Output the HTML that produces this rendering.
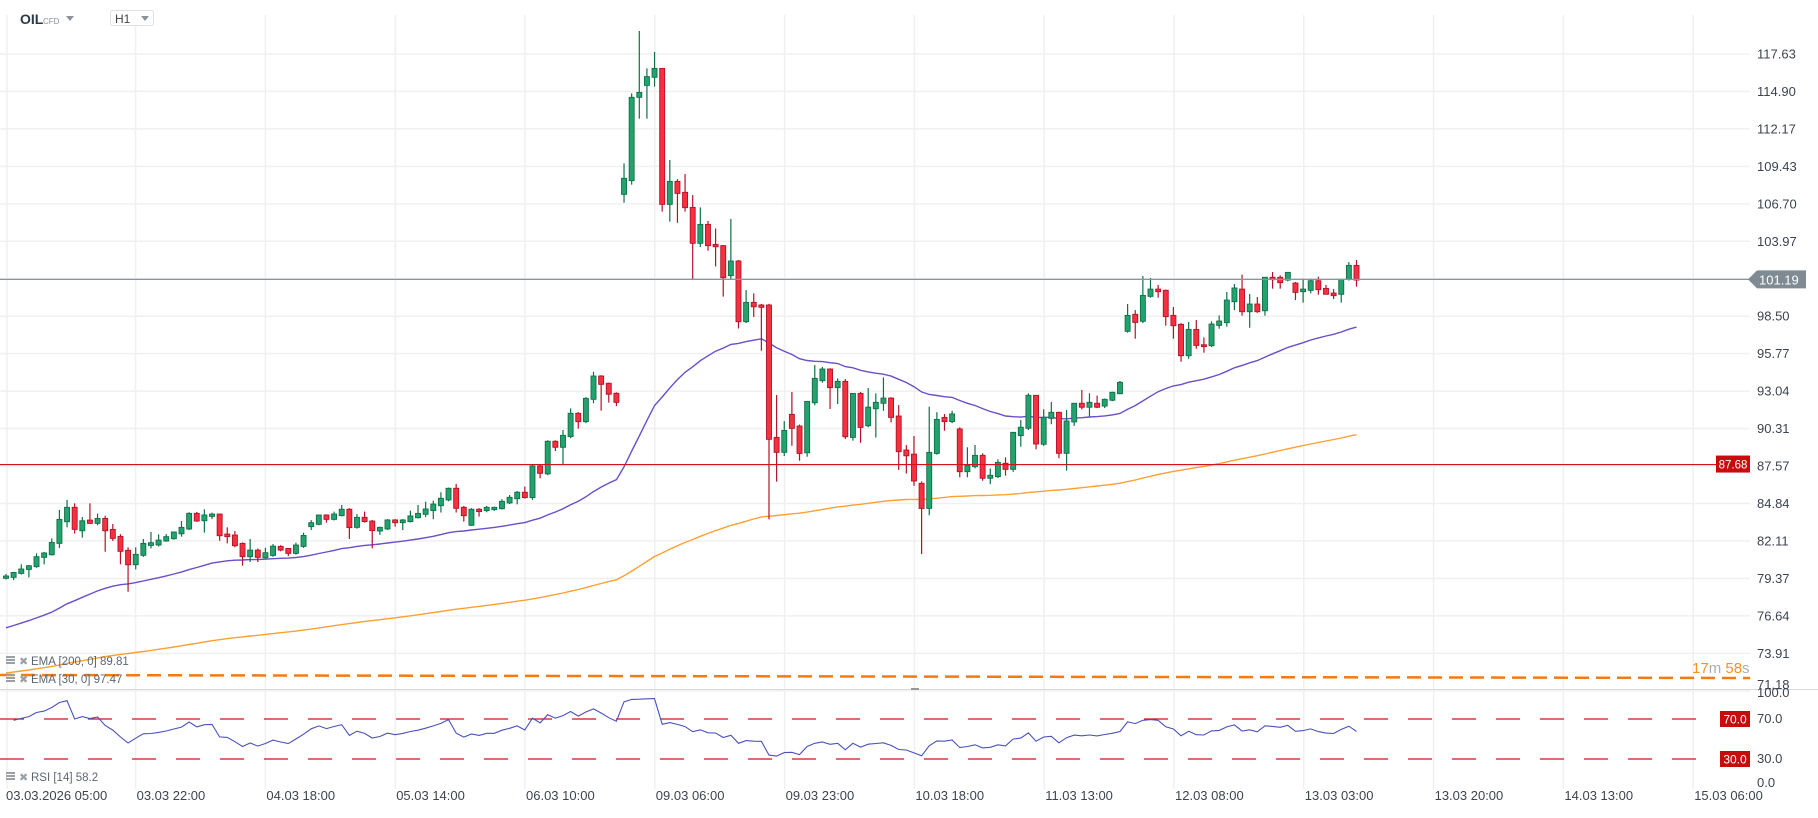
<!DOCTYPE html>
<html><head><meta charset="utf-8"><style>
html,body{margin:0;padding:0;background:#fff;}
body{width:1818px;height:813px;overflow:hidden;font-family:"Liberation Sans",sans-serif;}
svg text{font-family:"Liberation Sans",sans-serif;}
</style></head><body>
<svg id="chart" width="1818" height="813" viewBox="0 0 1818 813" xmlns="http://www.w3.org/2000/svg">
<g id="grid"></g>
<g id="ema"></g>
<g id="candles"></g>
<g id="overlay"></g>
<g id="rsi"></g>
<g id="axes"></g>
<g>
  <text x="20" y="24" font-size="14" font-weight="bold" fill="#2b3a4a">OIL</text>
  <text x="43" y="24" font-size="8" fill="#8a929b">CFD</text>
  <path d="M66 16 L74 16 L70 21 Z" fill="#8a929b"/>
  <rect x="110.5" y="10.5" width="43" height="15" fill="#fff" stroke="#dde1e5" rx="2"/>
  <text x="115" y="23" font-size="12" fill="#444">H1</text>
  <path d="M141 16 L149 16 L145 21 Z" fill="#8a929b"/>
</g>
</svg>
<script>
const opens=[79.38,79.45,79.74,80.03,80.23,80.91,81.10,81.93,83.51,84.56,82.85,83.63,83.39,83.75,82.95,82.44,81.42,80.37,81.06,81.78,81.81,82.10,82.27,82.63,82.98,84.12,83.58,83.90,84.07,82.61,82.54,81.93,80.96,81.44,80.88,81.05,81.71,81.56,81.20,81.71,83.15,83.32,84.0,83.68,83.95,84.42,83.10,83.83,83.56,82.83,82.98,83.64,83.44,83.52,83.80,84.05,84.32,84.68,85.10,85.95,84.56,83.25,84.42,84.32,84.39,84.46,84.88,85.19,85.66,85.27,87.58,87.00,89.38,88.94,89.72,91.42,90.81,92.44,94.14,93.61,92.88,107.39,108.39,114.47,115.34,115.93,116.58,106.66,108.34,107.54,106.44,103.82,105.20,103.74,103.65,101.46,102.53,98.10,99.51,99.32,99.32,89.66,88.57,91.34,90.49,88.54,92.19,93.80,94.65,93.29,93.75,89.66,92.87,90.51,91.75,92.15,92.53,91.22,88.74,88.44,86.31,84.48,88.49,91.12,90.81,90.28,87.16,87.53,88.35,86.68,86.80,87.77,87.33,89.79,90.33,92.73,89.16,91.05,91.49,88.50,90.79,92.15,91.86,92.15,91.95,92.37,92.85,97.40,98.64,98.13,99.95,100.48,100.39,98.56,97.91,95.62,97.54,96.42,96.35,97.83,98.03,99.56,100.48,98.83,99.39,98.90,101.34,101.34,101.14,100.92,100.29,100.39,101.09,100.53,100.19,100.10,101.19,102.21];
const highs=[79.70,79.85,80.40,80.35,81.20,81.30,82.30,84.37,85.10,84.85,83.85,84.85,84.10,83.95,83.34,82.60,81.64,81.64,82.25,82.76,82.59,82.61,82.80,83.56,84.20,84.22,84.41,84.17,84.10,83.10,82.83,82.00,82.25,81.55,81.61,81.88,81.80,81.60,81.98,82.71,83.63,84.00,84.05,84.25,84.73,84.50,84.07,84.25,83.64,83.15,83.70,83.70,83.70,84.32,84.73,84.97,85.05,85.66,86.00,86.26,84.66,84.50,84.50,84.66,84.60,85.15,85.46,85.75,86.07,87.65,87.65,89.45,89.45,90.20,91.78,91.50,92.60,94.45,94.20,93.66,92.95,109.65,114.76,119.31,116.58,117.78,116.60,109.90,108.50,108.87,107.34,106.44,105.45,104.90,103.70,105.59,102.60,100.41,100.17,99.40,99.40,92.75,90.85,92.97,90.60,92.30,94.94,94.80,94.70,93.97,93.92,92.90,92.97,93.26,92.87,94.04,92.60,92.02,89.10,89.76,86.45,91.90,91.50,91.37,91.60,90.40,88.94,89.11,88.50,87.40,88.06,88.20,90.03,90.93,92.88,92.75,91.71,92.25,91.54,91.66,92.15,93.12,92.88,92.71,92.50,93.00,93.78,99.39,98.95,101.43,101.29,100.78,100.45,99.17,98.00,98.08,98.22,96.96,98.13,98.56,100.27,100.85,101.53,100.12,99.90,101.34,101.73,101.48,101.70,101.00,101.24,101.24,101.38,100.78,100.48,101.19,102.45,102.60];
const lows=[79.30,79.25,79.65,79.45,80.15,80.40,81.05,81.60,83.10,82.65,82.35,83.35,83.25,81.32,82.10,80.40,78.40,80.03,80.95,81.56,81.70,82.05,82.20,82.42,82.90,83.50,82.71,83.70,82.12,81.93,81.64,80.30,80.57,80.57,80.80,80.95,81.35,81.00,81.10,81.60,82.90,83.25,83.44,83.60,83.90,82.25,83.00,83.45,81.57,82.55,82.90,83.15,82.90,83.45,83.75,83.85,83.69,84.18,85.00,84.18,83.52,83.20,83.88,84.20,84.30,84.40,84.80,84.78,85.20,85.10,86.68,86.90,88.67,87.72,89.60,90.30,90.70,92.15,91.61,92.20,91.95,106.78,108.10,112.91,112.91,115.25,106.13,105.40,105.32,106.13,101.14,103.55,103.28,102.13,99.93,101.20,97.61,98.00,98.45,95.98,83.68,86.43,88.30,89.05,87.96,88.25,92.00,93.65,91.73,92.10,89.54,89.42,89.27,90.40,89.65,91.60,90.75,87.28,87.03,86.13,81.15,83.98,88.40,90.15,90.70,86.75,86.75,87.40,86.50,86.25,86.70,86.87,87.15,88.98,90.20,88.79,89.05,90.62,88.14,87.24,90.50,91.70,91.18,91.80,91.80,92.30,92.80,97.30,96.86,98.00,99.85,99.85,97.81,96.86,95.18,95.40,96.13,95.84,96.25,97.59,97.74,98.95,98.54,97.66,98.75,98.54,100.51,100.51,101.05,99.68,99.49,100.17,100.07,100.40,99.76,99.49,101.10,100.66];
const closes=[79.55,79.81,80.06,80.30,80.96,81.23,82.00,83.68,84.56,82.95,83.58,83.39,83.75,82.85,82.29,81.35,80.37,81.13,81.93,81.98,82.17,82.42,82.76,83.10,84.12,83.56,84.00,84.07,82.49,82.42,81.76,80.96,81.44,80.91,81.25,81.73,81.44,81.20,81.81,82.51,83.44,84.00,83.68,84.07,84.42,83.08,83.83,83.52,82.86,83.10,83.64,83.44,83.64,83.93,84.12,84.44,84.80,85.22,85.95,84.49,83.95,84.42,84.25,84.56,84.56,85.00,85.29,85.66,85.27,87.58,87.04,89.38,88.94,89.81,91.42,90.81,92.51,94.14,93.53,92.81,92.22,108.56,114.47,114.83,115.98,116.58,106.66,108.34,107.46,106.42,103.82,105.20,103.65,103.57,101.31,102.53,98.10,99.51,99.19,99.15,89.52,88.57,90.17,90.32,88.49,92.29,93.97,94.65,93.29,93.75,89.71,92.87,90.39,91.87,92.22,92.53,91.12,88.62,88.32,86.48,84.48,88.57,90.97,90.81,91.37,87.16,87.62,88.35,86.68,86.90,87.84,87.33,90.03,90.40,92.73,89.18,91.13,91.49,88.50,90.86,92.15,91.86,92.22,91.86,92.44,92.95,93.68,98.56,98.05,100.02,100.48,100.29,98.47,97.81,95.62,97.54,96.37,96.28,97.93,98.15,99.68,100.56,98.83,99.39,98.83,101.34,101.17,100.95,101.70,100.24,100.48,101.09,100.44,100.10,100.00,101.19,102.21,101.14];
const priceTicks=["117.63","114.90","112.17","109.43","106.70","103.97","98.50","95.77","93.04","90.31","87.57","84.84","82.11","79.37","76.64","73.91","71.18"];
const timeLabels=["03.03.2026  05:00","03.03  22:00","04.03  18:00","05.03  14:00","06.03  10:00","09.03  06:00","09.03  23:00","10.03  18:00","11.03  13:00","12.03  08:00","13.03  03:00","13.03  20:00","14.03  13:00","15.03  06:00"];
const rsiTicks=[100,70,30,0];
const ema30Seed=[75.6];
const ema200Seed=[72.4];
const legendValues=["89.81","97.47","58.2"];
const lastPrice=[101.19];
const levelPrice=[87.68];

const NS="http://www.w3.org/2000/svg";
const PLOT_R=1750;
function y(p){return 54+(117.63-p)/0.07295;}
function x(i){return 6+i*7.63;}
function ry(v){return 789-v;}
function mk(tag,attrs,parent){const e=document.createElementNS(NS,tag);for(const k in attrs)e.setAttribute(k,attrs[k]);parent.appendChild(e);return e;}
const grid=document.getElementById('grid'),ema=document.getElementById('ema'),cg=document.getElementById('candles'),ov=document.getElementById('overlay'),rg=document.getElementById('rsi'),ax=document.getElementById('axes');

priceTicks.forEach(t=>{const l=mk('line',{x1:0,x2:PLOT_R,y1:y(+t),y2:y(+t),stroke:'#f0f0f0','stroke-width':1.5},grid);

});
mk('line',{x1:0,x2:PLOT_R,y1:y(101.24),y2:y(101.24),stroke:'#f0f0f0','stroke-width':1.5},grid);
timeLabels.forEach((t,k)=>{const gx=k===0?7:135.6+(k-1)*129.8;const l=mk('line',{x1:gx,x2:gx,y1:15,y2:789,stroke:'#f0f0f0','stroke-width':1.5},grid);


const tx=mk('text',{x:k===0?6:gx+1,y:800,'font-size':13,fill:'#3c4450','xml:space':'preserve'},ax);tx.textContent=t;

});

function emaSeries(seed,n){const a=2/(n+1);let e=seed;return closes.map(c=>(e=e+a*(c-e)));}
const e30=emaSeries(ema30Seed[0],46),e200=emaSeries(ema200Seed[0],200);
function pl(arr,col,name){const p=mk('polyline',{points:arr.map((v,i)=>x(i).toFixed(1)+','+y(v).toFixed(1)).join(' '),fill:'none',stroke:col,'stroke-width':1.4},ema);

}
pl(e200,'#ffa033','ema-200-line');
pl(e30,'#6a4fc8','ema-30-line');

const red=mk('line',{x1:0,x2:PLOT_R,y1:y(levelPrice[0]),y2:y(levelPrice[0]),stroke:'#d2131b','stroke-width':1.2},ov);


const gl=mk('line',{x1:0,x2:PLOT_R,y1:y(lastPrice[0]),y2:y(lastPrice[0]),stroke:'#8a949c','stroke-width':1.2},ov);



closes.forEach((c,i)=>{const o=opens[i],up=c>=o,cx=x(i);
const fill=up?'#24a26e':'#f5313f',st=up?'#0f7048':'#b3122a';
const w=mk('line',{x1:cx,x2:cx,y1:y(highs[i]),y2:y(lows[i]),stroke:st,'stroke-width':1.2},cg);


const top=y(Math.max(o,c)),h=Math.max(1.5,Math.abs(y(o)-y(c)));
const b=mk('rect',{x:cx-2.5,y:top,width:5,height:h,fill:fill,stroke:st,'stroke-width':0.9},cg);

});

const od=mk('line',{x1:0,x2:PLOT_R,y1:675,y2:678,stroke:'#f57a10','stroke-width':2.5,'stroke-dasharray':'14 7'},ov);


const cd=mk('text',{x:1692,y:673,'font-size':15},ov);


cd.innerHTML='<tspan fill="#f7931e">17</tspan><tspan fill="#a9adb2">m </tspan><tspan fill="#f7931e">58</tspan><tspan fill="#a9adb2">s</tspan>';

function legend(yy,txt,name){const g=mk('g',{},ov);


mk('rect',{x:6,y:yy-9,width:9,height:2,fill:'#9aa0a6'},g);mk('rect',{x:6,y:yy-6,width:9,height:2,fill:'#9aa0a6'},g);mk('rect',{x:6,y:yy-3,width:9,height:2,fill:'#9aa0a6'},g);
const t=mk('text',{x:19,y:yy,'font-size':11,fill:'#9aa0a6'},g);t.textContent='✖';
const t2=mk('text',{x:31,y:yy,'font-size':11.5,fill:'#5d6670','xml:space':'preserve'},g);t2.textContent=txt;}
legend(665,'EMA  [200,  0]  '+legendValues[0],'ema-200-legend');
legend(683,'EMA  [30,  0]  '+legendValues[1],'ema-30-legend');

mk('line',{x1:0,x2:1818,y1:689.5,y2:689.5,stroke:'#d8dbde','stroke-width':1},rg);
mk('rect',{x:911,y:688,width:8,height:2,fill:'#999'},rg);

let ag=0.2,al=0.1;const rsi=[];
for(let i=1;i<closes.length;i++){const d=closes[i]-closes[i-1],g=Math.max(d,0),l=Math.max(-d,0);
ag=(ag*13+g)/14;al=(al*13+l)/14;
rsi.push(al===0?100:100-100/(1+ag/al));}
[70,30].forEach(v=>{const l=mk('line',{x1:0,x2:1716,y1:ry(v),y2:ry(v),stroke:'#d2131b','stroke-width':1.2,'stroke-dasharray':'24 20'},rg);


const b=mk('rect',{x:1720,y:ry(v)-8,width:30,height:16,fill:'#c80c0c'},rg);


const t=mk('text',{x:1735,y:ry(v)+4.5,'font-size':12,fill:'#fff','text-anchor':'middle'},rg);t.textContent=v.toFixed(1);});
const rl=mk('polyline',{points:rsi.map((v,i)=>x(i+1).toFixed(1)+','+ry(v).toFixed(1)).join(' '),fill:'none',stroke:'#4a52b8','stroke-width':1.1},rg);


legend(781,'RSI  [14]  '+legendValues[2],'rsi-legend');
const rpos={100:697,70:723,30:763,0:787};
rsiTicks.forEach(v=>{const t=mk('text',{x:1757,y:rpos[v],'font-size':13,fill:'#3c4450'},ax);t.textContent=v.toFixed(1);

});

priceTicks.forEach(t=>{const yy=t==='71.18'?689:y(+t)+4.5;const e=mk('text',{x:1757,y:yy,'font-size':13,fill:'#3c4450'},ax);e.textContent=t;

});
const ly=y(lastPrice[0]);
const tag=mk('path',{d:`M1748 ${ly} L1757 ${ly-9} L1806 ${ly-9} L1806 ${ly+9} L1757 ${ly+9} Z`,fill:'#7f8a93'},ax);


const lt=mk('text',{x:1759,y:ly+5,'font-size':13,fill:'#fff'},ax);lt.textContent=lastPrice[0].toFixed(2);
const ry2=y(levelPrice[0]);
const rt=mk('rect',{x:1716,y:ry2-9,width:34,height:17,fill:'#c80c0c'},ax);


const rtt=mk('text',{x:1733,y:ry2+4,'font-size':11.5,fill:'#fff','text-anchor':'middle'},ax);rtt.textContent=levelPrice[0].toFixed(2);
</script>
</body></html>
